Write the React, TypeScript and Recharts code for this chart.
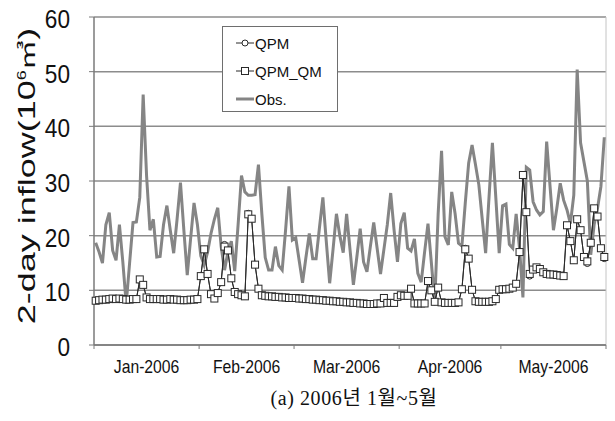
import { LineChart, Line, XAxis, YAxis, CartesianGrid, Legend, ReferenceLine } from 'recharts'

// daily 2-day inflow, 1 Jan 2006 .. 31 May 2006 (151 days)
const MONTHS = ['Jan-2006', 'Feb-2006', 'Mar-2006', 'Apr-2006', 'May-2006']
const MONTH_DAYS = [31, 28, 31, 30, 31]
const Y_TICKS = [0, 10, 20, 30, 40, 50, 60]

const OBS = [
  // Jan
  18.7, 17, 15, 22, 24.2, 17.3, 15.5, 22, 15.2, 7.5, 15, 22.4, 22.5, 27, 45.8, 31, 21, 23, 16.1, 16.2,
  22, 25.5, 21, 16.8, 23, 29.7, 21, 12.8, 19.5, 26, 22,
  // Feb
  16.3, 14.6, 17, 20.4, 23, 25.1, 18, 13.7, 17, 19, 13.5, 22, 31, 28, 27.4, 27.4, 27.5, 33, 24, 16,
  13.7, 13.7, 18, 14.5, 13.7, 21, 29, 19.2,
  // Mar
  19.6, 15.5, 11.4, 16, 20.4, 15.8, 15.8, 21.5, 27, 19, 11.3, 17.5, 24, 20, 16.9, 24, 17.5, 11, 16, 21.3,
  15.2, 13.4, 18, 22.4, 17.7, 13, 17.5, 22, 27.8, 21, 15.2,
  // Apr
  22.2, 24.2, 17.7, 17.2, 19.4, 13.1, 11.5, 17, 22.2, 15, 7.8, 24, 35.5, 19.8, 18.3, 28, 24, 18.6, 18.1, 26,
  33.3, 36.6, 33, 29.3, 23, 16.8, 27, 37, 27, 16.8,
  // May
  25.5, 25.8, 18.4, 17.7, 24, 17.7, 8.7, 32.5, 32, 26.2, 24.7, 23.8, 24.4, 37.2, 29, 21, 25, 29.6, 26.5, 24.7,
  22.2, 27.4, 50.4, 37, 33.5, 30, 16.5, 22, 25, 29, 38,
]

const QPM = [
  8.1, 8.2, 8.3, 8.3, 8.4, 8.5, 8.4, 8.5, 8.4, 8.3, 8.3, 8.4, 8.4, 11.8, 11, 8.7, 8.4, 8.4, 8.4, 8.4,
  8.3, 8.3, 8.4, 8.3, 8.3, 8.2, 8.2, 8.2, 8.3, 8.3, 8.4,
  12.6, 17.5, 13, 9.3, 8.5, 9.5, 11.5, 18.4, 17.3, 12.2, 9.7, 9.3, 9.1, 8.9, 24.1, 23.1, 14.7, 10.3, 9.1, 9,
  8.9, 8.9, 8.8, 8.8, 8.7, 8.7, 8.6, 8.6,
  8.6, 8.5, 8.5, 8.4, 8.4, 8.3, 8.3, 8.2, 8.2, 8.1, 8.1, 8, 8, 7.9, 7.9, 7.8, 7.8, 7.7, 7.7, 7.6,
  7.6, 7.5, 7.5, 7.5, 7.6, 7.6, 8.6, 7.7, 7.7, 7.7, 8.8,
  9.1, 9, 9, 10.3, 7.6, 7.6, 7.6, 7.6, 11.5, 10, 7.9, 10.5, 7.8, 7.7, 7.7, 7.7, 7.7, 7.8, 10.2, 17.7,
  15.8, 10.1, 8, 7.9, 7.9, 7.9, 7.9, 8, 8.4, 10.1,
  10.2, 10.2, 10.3, 10.5, 11.2, 17, 30.9, 24.3, 12.6, 13.8, 14.2, 13.9, 13.3, 13, 12.9, 12.9, 12.8, 12.7, 12.6, 21.9,
  19, 15.5, 23, 21, 16.1, 14.9, 18.7, 25, 23.5, 17.7, 15.8,
]

const QPM_QM = [
  8.1, 8.2, 8.3, 8.3, 8.4, 8.5, 8.4, 8.5, 8.4, 8.3, 8.3, 8.4, 8.4, 12, 11, 8.7, 8.4, 8.4, 8.4, 8.4,
  8.3, 8.3, 8.4, 8.3, 8.3, 8.2, 8.2, 8.2, 8.3, 8.3, 8.4,
  12.6, 17.5, 13, 9.3, 8.5, 9.5, 11.5, 18, 17.3, 12.2, 9.7, 9.3, 9.1, 8.9, 23.9, 23.1, 14.7, 10.3, 9.1, 9,
  8.9, 8.9, 8.8, 8.8, 8.7, 8.7, 8.6, 8.6,
  8.6, 8.5, 8.5, 8.4, 8.4, 8.3, 8.3, 8.2, 8.2, 8.1, 8.1, 8, 8, 7.9, 7.9, 7.8, 7.8, 7.7, 7.7, 7.6,
  7.6, 7.5, 7.5, 7.5, 7.6, 7.6, 8.6, 7.7, 7.7, 7.7, 8.8,
  9.1, 9, 9, 10.3, 7.6, 7.6, 7.6, 7.6, 11.7, 10, 7.9, 10.5, 7.8, 7.7, 7.7, 7.7, 7.7, 7.8, 10.2, 17.5,
  15.8, 10.1, 8, 7.9, 7.9, 7.9, 7.9, 8, 8.4, 10.1,
  10.2, 10.2, 10.3, 10.5, 11.2, 17, 31.1, 24.3, 13, 13.8, 14.2, 13.9, 13.3, 13, 12.9, 12.9, 12.8, 12.7, 12.6, 21.9,
  19, 15.5, 23, 21, 16.1, 15.3, 18.7, 25, 23.5, 17.7, 16.1,
]

const W = 615
const H = 421
const MARGIN = { top: 17, right: 9, bottom: 46, left: 0 }
const Y_AXIS_W = 94
const X_AXIS_H = 30
const PLOT_W = W - MARGIN.left - MARGIN.right - Y_AXIS_W
const DOMAIN: [number, number] = [-0.5, 150.5]
const PX_PER_DAY = PLOT_W / (DOMAIN[1] - DOMAIN[0])
const MONTH_STARTS = MONTH_DAYS.reduce((acc, d) => [...acc, acc[acc.length - 1] + d], [DOMAIN[0]])

const SANS = '"Liberation Sans", Arial, sans-serif'
const GRID = '#8c8c8c'
const AXIS = '#7a7a7a'
const OBS_COLOR = '#858585'
const MARK = '#2a2a2a'

const data = OBS.map((obs, i) => ({ day: i, obs, qpm: QPM[i], qpmQm: QPM_QM[i] }))

function MonthTick(props: any) {
  const { x, y, payload } = props
  const i = MONTH_STARTS.indexOf(payload.value)
  if (i < 0 || i >= MONTHS.length) return <g />
  const cx = x + (MONTH_DAYS[i] * PX_PER_DAY) / 2
  return (
    <text
      transform={`translate(${cx},${y}) scale(0.9,1)`}
      textAnchor="middle"
      dy="0.71em"
      fontSize={17.5}
      fontFamily={SANS}
      fill="#111"
    >
      {MONTHS[i]}
    </text>
  )
}

function ValueTick(props: any) {
  const { x, y, payload } = props
  return (
    <text
      transform={`translate(${x},${y}) scale(0.87,1)`}
      textAnchor="end"
      dy="0.42em"
      fontSize={26}
      fontFamily={SANS}
      fill="#111"
    >
      {payload.value}
    </text>
  )
}

function CircleDot(props: any) {
  const { cx, cy, index } = props
  return <circle key={`c-${index}`} cx={cx} cy={cy} r={3} fill="#fff" stroke={MARK} strokeWidth={1} />
}

function SquareDot(props: any) {
  const { cx, cy, index } = props
  return (
    <rect key={`s-${index}`} x={cx - 3.5} y={cy - 3.5} width={7} height={7} fill="#fff" stroke={MARK} strokeWidth={1} />
  )
}

const LEGEND_ITEMS = [
  { label: 'QPM', kind: 'circle' },
  { label: 'QPM_QM', kind: 'square' },
  { label: 'Obs.', kind: 'obs' },
]

function LegendBox() {
  return (
    <div
      style={{
        width: 116,
        height: 86,
        boxSizing: 'border-box',
        border: '1px solid #6e6e6e',
        background: '#fff',
        paddingTop: 2,
        fontFamily: SANS,
        fontSize: 15,
        color: '#111',
      }}
    >
      {LEGEND_ITEMS.map((it) => (
        <div key={it.label} style={{ display: 'flex', alignItems: 'center', height: 28, paddingLeft: 13 }}>
          <svg width={18} height={10} style={{ marginRight: 1 }}>
            {it.kind === 'obs' ? (
              <line x1={0} y1={5} x2={18} y2={5} stroke={OBS_COLOR} strokeWidth={3} />
            ) : (
              <line x1={0} y1={5} x2={18} y2={5} stroke={MARK} strokeWidth={1} />
            )}
            {it.kind === 'circle' && <circle cx={9} cy={5} r={3} fill="#fff" stroke={MARK} />}
            {it.kind === 'square' && <rect x={5.5} y={1.5} width={7} height={7} fill="#fff" stroke={MARK} />}
          </svg>
          <span>{it.label}</span>
        </div>
      ))}
    </div>
  )
}

export default function App() {
  return (
    <div style={{ position: 'absolute', left: 0, top: 0, width: W, height: H, background: '#fff' }}>
      <LineChart width={W} height={H} data={data} margin={MARGIN}>
        <CartesianGrid horizontal vertical={false} stroke={GRID} strokeWidth={1.5} />
        <XAxis
          dataKey="day"
          type="number"
          domain={DOMAIN}
          ticks={MONTH_STARTS}
          interval={0}
          height={X_AXIS_H}
          tickSize={4}
          tickMargin={12}
          tick={MonthTick}
          axisLine={{ stroke: AXIS, strokeWidth: 1.5 }}
          tickLine={{ stroke: AXIS }}
        />
        <YAxis
          type="number"
          domain={[0, 60]}
          ticks={Y_TICKS}
          interval={0}
          width={Y_AXIS_W}
          tickSize={5}
          tickMargin={19}
          tick={ValueTick}
          axisLine={{ stroke: AXIS, strokeWidth: 1.5 }}
          tickLine={{ stroke: AXIS }}
        />
        <ReferenceLine x={DOMAIN[1]} stroke="#c4c4c4" strokeWidth={1} />
        <Legend
          layout="vertical"
          align="center"
          verticalAlign="middle"
          content={LegendBox}
          wrapperStyle={{ left: 222, top: 26, width: 116, height: 86 }}
        />
        <Line
          dataKey="obs"
          name="Obs."
          type="linear"
          stroke={OBS_COLOR}
          strokeWidth={3}
          dot={false}
          activeDot={false}
          isAnimationActive={false}
        />
        <Line
          dataKey="qpm"
          name="QPM"
          type="linear"
          stroke={MARK}
          strokeWidth={1}
          dot={CircleDot}
          activeDot={false}
          isAnimationActive={false}
        />
        <Line
          dataKey="qpmQm"
          name="QPM_QM"
          type="linear"
          stroke={MARK}
          strokeWidth={1}
          dot={SquareDot}
          activeDot={false}
          isAnimationActive={false}
        />
      </LineChart>
      <div
        style={{
          position: 'absolute',
          left: 27,
          top: 176,
          transform: 'translate(-50%, -50%) rotate(-90deg) scaleY(0.68)',
          whiteSpace: 'nowrap',
          fontFamily: `${SANS}, "Noto Sans CJK KR"`,
          fontSize: 36,
          lineHeight: 1,
          color: '#111',
        }}
      >
        2-day inflow(10<sup style={{ fontSize: '0.5em', lineHeight: 0 }}>6</sup>
        <span style={{ fontSize: '0.85em' }}>㎥</span>)
      </div>
      <div
        style={{
          position: 'absolute',
          left: 354,
          top: 382,
          transform: 'translateX(-50%)',
          whiteSpace: 'nowrap',
          fontFamily: '"Liberation Serif", "DejaVu Serif", "Noto Sans CJK KR", serif',
          fontSize: 20,
          letterSpacing: 0.6,
          color: '#111',
        }}
      >
        (a) 2006년 1월~5월
      </div>
    </div>
  )
}
